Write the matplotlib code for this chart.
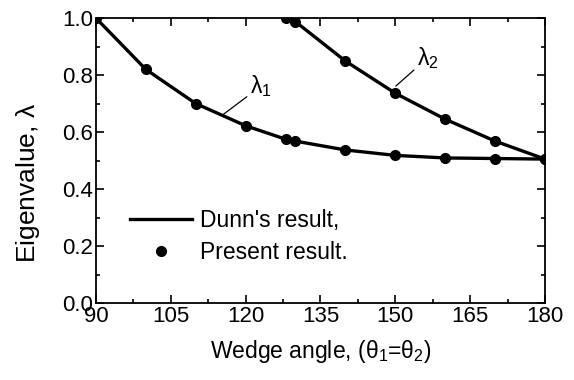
import matplotlib
matplotlib.use("Agg")
import matplotlib.pyplot as plt
from matplotlib.ticker import MultipleLocator, FormatStrFormatter
from matplotlib.lines import Line2D

plt.rcParams['font.family'] = ['Liberation Sans', 'DejaVu Sans']
plt.rcParams['mathtext.fontset'] = 'custom'
plt.rcParams['mathtext.rm'] = 'Liberation Sans'
plt.rcParams['mathtext.it'] = 'Liberation Sans'
plt.rcParams['mathtext.default'] = 'rm'

angle1 = [90, 100, 110, 120, 128, 130, 140, 150, 160, 170, 180]
lam1 = [1.0, 0.82, 0.70, 0.622, 0.575, 0.568, 0.537, 0.518, 0.509, 0.507, 0.505]
angle2 = [128, 130, 140, 150, 160, 170, 180]
lam2 = [1.0, 0.987, 0.849, 0.736, 0.645, 0.568, 0.505]

fig = plt.figure(figsize=(5.74, 3.8), dpi=100)
ax = fig.add_axes([0.167, 0.2026, 0.7825, 0.75])

ax.plot(angle1, lam1, color='black', lw=2.4)
ax.plot(angle2, lam2, color='black', lw=2.4)
ax.plot(angle1, lam1, 'o', color='black', ms=7)
ax.plot(angle2, lam2, 'o', color='black', ms=7)

ax.set_xlim(90, 180)
ax.set_ylim(0, 1.0)
ax.xaxis.set_major_locator(MultipleLocator(15))
ax.xaxis.set_minor_locator(MultipleLocator(7.5))
ax.yaxis.set_major_locator(MultipleLocator(0.2))
ax.yaxis.set_minor_locator(MultipleLocator(0.1))
ax.yaxis.set_major_formatter(FormatStrFormatter('%.1f'))
ax.tick_params(which='both', direction='in', top=True, right=True, labelsize=16, width=1.2)
ax.tick_params(which='major', length=6, pad=2)
ax.tick_params(which='minor', length=3)
for s in ax.spines.values():
    s.set_linewidth(1.3)

ax.set_xlabel(r'Wedge angle, ($\theta_1$=$\theta_2$)', fontsize=16.5, labelpad=8)
ax.set_ylabel(r'Eigenvalue, $\lambda$', fontsize=19)
ax.yaxis.set_label_coords(-0.12, 0.42)

ax.annotate(r'$\lambda_1$', xy=(115.4, 0.66), xytext=(120.8, 0.735), fontsize=16.5,
            arrowprops=dict(arrowstyle='-', color='black', lw=0.9, shrinkA=0, shrinkB=0))
ax.annotate(r'$\lambda_2$', xy=(150.1, 0.761), xytext=(154.3, 0.835), fontsize=16.5,
            arrowprops=dict(arrowstyle='-', color='black', lw=0.9, shrinkA=0, shrinkB=0))

handles = [Line2D([], [], color='black', lw=2.4),
           Line2D([], [], color='black', marker='o', ls='none', ms=7)]
ax.legend(handles, ["Dunn's result,", "Present result."], loc='upper left',
          bbox_to_anchor=(0.0757, 0.33), frameon=False, fontsize=16.5,
          handlelength=2.7, handletextpad=0.35, labelspacing=0.4,
          borderaxespad=0, borderpad=0)

fig.savefig('out.png', dpi=100)
